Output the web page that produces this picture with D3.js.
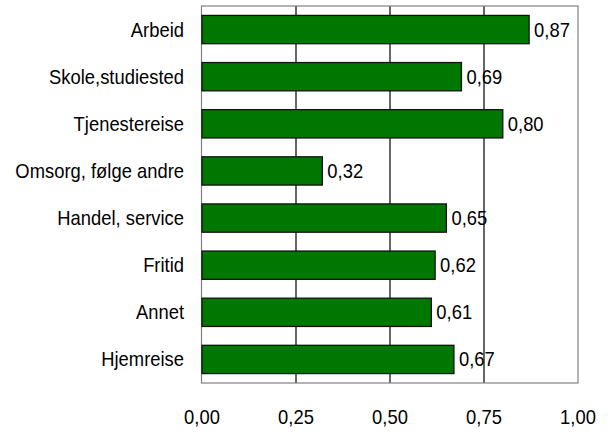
<!DOCTYPE html>
<html><head><meta charset="utf-8">
<script src="https://cdn.jsdelivr.net/npm/d3@7"></script>
<style>body{margin:0;background:#fff}svg{display:block}text{font-family:"Liberation Sans",Arial,sans-serif;fill:#000}</style>
</head><body>
<script>
const categories = ["Arbeid","Skole,studiested","Tjenestereise","Omsorg, følge andre","Handel, service","Fritid","Annet","Hjemreise"];
const values = [0.87,0.69,0.80,0.32,0.65,0.62,0.61,0.67];
const valueLabels = ["0,87","0,69","0,80","0,32","0,65","0,62","0,61","0,67"];
const tickValues = [0,0.25,0.5,0.75,1];
const tickLabels = ["0,00","0,25","0,50","0,75","1,00"];

const W=612,H=432;
const L=202,R=578,T=6,B=383;
const fs=20, sx=0.92;
const svg=d3.select("body").append("svg").attr("width",W).attr("height",H);
const x=d3.scaleLinear().domain([0,1]).range([L,R]);
const y=d3.scaleBand().domain(categories).range([T,B]).paddingInner(0.4).paddingOuter(0.2);

// gridlines
svg.append("g").selectAll("line").data(tickValues.slice(1,-1)).join("line")
  .attr("x1",d=>x(d)).attr("x2",d=>x(d)).attr("y1",T).attr("y2",B)
  .attr("stroke","#000").attr("stroke-width",1.2);
// frame
svg.append("rect").attr("x",L-0.5).attr("y",T).attr("width",R-L+0.5).attr("height",B-T)
  .attr("fill","none").attr("stroke","#808080").attr("stroke-width",1.2);
// bars
svg.append("g").selectAll("rect").data(values).join("rect")
  .attr("x",x(0)).attr("y",(d,i)=>y(categories[i]))
  .attr("width",d=>x(d)-x(0)).attr("height",y.bandwidth())
  .attr("fill","#007800").attr("stroke","#111").attr("stroke-width",1.3);
// value labels
svg.append("g").selectAll("text").data(values).join("text")
  .attr("transform",(d,i)=>`translate(${x(d)+5},${y(categories[i])+y.bandwidth()/2}) scale(${sx},1)`)
  .attr("dy","0.35em").attr("font-size",fs).text((d,i)=>valueLabels[i]);
// category labels
svg.append("g").selectAll("text").data(categories).join("text")
  .attr("transform",d=>`translate(184,${y(d)+y.bandwidth()/2}) scale(${sx},1)`)
  .attr("dy","0.35em").attr("text-anchor","end").attr("font-size",fs).text(d=>d);
// tick labels
svg.append("g").selectAll("text").data(tickValues).join("text")
  .attr("transform",d=>`translate(${x(d)},424) scale(${sx},1)`)
  .attr("text-anchor","middle").attr("font-size",fs).text((d,i)=>tickLabels[i]);
</script>
</body></html>
